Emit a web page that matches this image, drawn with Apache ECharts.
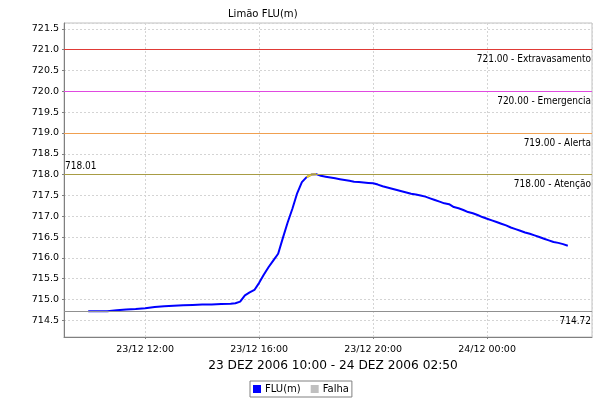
<!DOCTYPE html>
<html><head><meta charset="utf-8">
<script src="https://cdn.jsdelivr.net/npm/echarts@6/dist/echarts.min.js"></script>
<style>html,body{margin:0;padding:0;background:#fff}#c{width:600px;height:400px}</style>
</head><body><div id="c"></div>
<script>
const titleText = 'Limão FLU(m)';
const subtitleText = '23 DEZ 2006 10:00 - 24 DEZ 2006 02:50';
const times = [
 '2006-12-23 10:00','2006-12-23 10:20','2006-12-23 10:40','2006-12-23 11:00','2006-12-23 11:20','2006-12-23 11:40',
 '2006-12-23 12:00','2006-12-23 12:20','2006-12-23 12:40','2006-12-23 13:00','2006-12-23 13:20','2006-12-23 13:40',
 '2006-12-23 14:00','2006-12-23 14:20','2006-12-23 14:40','2006-12-23 15:00','2006-12-23 15:10','2006-12-23 15:20',
 '2006-12-23 15:30','2006-12-23 15:40','2006-12-23 15:50','2006-12-23 16:00','2006-12-23 16:10','2006-12-23 16:20',
 '2006-12-23 16:30','2006-12-23 16:40','2006-12-23 16:50','2006-12-23 17:00','2006-12-23 17:10','2006-12-23 17:20',
 '2006-12-23 17:30','2006-12-23 17:40','2006-12-23 17:50','2006-12-23 18:00','2006-12-23 18:10','2006-12-23 18:20',
 '2006-12-23 18:30','2006-12-23 18:40','2006-12-23 18:50','2006-12-23 19:00','2006-12-23 19:10','2006-12-23 19:20',
 '2006-12-23 19:30','2006-12-23 19:40','2006-12-23 19:50','2006-12-23 20:00','2006-12-23 20:10','2006-12-23 20:20',
 '2006-12-23 20:30','2006-12-23 20:40','2006-12-23 20:50','2006-12-23 21:00','2006-12-23 21:10','2006-12-23 21:20',
 '2006-12-23 21:30','2006-12-23 21:40','2006-12-23 21:50','2006-12-23 22:00','2006-12-23 22:10','2006-12-23 22:20',
 '2006-12-23 22:30','2006-12-23 22:40','2006-12-23 22:50','2006-12-23 23:00','2006-12-23 23:10','2006-12-23 23:20',
 '2006-12-23 23:30','2006-12-23 23:40','2006-12-23 23:50','2006-12-24 00:00','2006-12-24 00:10','2006-12-24 00:20',
 '2006-12-24 00:30','2006-12-24 00:40','2006-12-24 00:50','2006-12-24 01:00','2006-12-24 01:10','2006-12-24 01:20',
 '2006-12-24 01:30','2006-12-24 01:40','2006-12-24 01:50','2006-12-24 02:00','2006-12-24 02:10','2006-12-24 02:20',
 '2006-12-24 02:30','2006-12-24 02:40','2006-12-24 02:50'
];
const flu = [
 714.72,714.72,714.72,714.74,714.76,714.77,
 714.79,714.82,714.84,714.85,714.86,714.87,
 714.88,714.88,714.89,714.90,714.91,714.95,
 715.10,715.17,715.23,715.40,715.60,715.78,
 715.94,716.10,716.48,716.85,717.18,717.55,
 717.82,717.94,718.00,718.01,717.97,717.95,
 717.93,717.91,717.89,717.87,717.85,717.83,
 717.82,717.81,717.80,717.79,717.76,717.72,
 717.69,717.66,717.63,717.60,717.57,717.54,
 717.52,717.50,717.47,717.43,717.39,717.35,
 717.31,717.29,717.22,717.19,717.15,717.10,
 717.07,717.03,716.98,716.94,716.90,716.86,
 716.82,716.78,716.73,716.69,716.65,716.61,
 716.58,716.54,716.50,716.46,716.42,716.38,
 716.36,716.33,716.29
];
const peakTimes = ['2006-12-23 17:40','2006-12-23 17:50','2006-12-23 18:00'];
const peakValues = [717.94,718.00,718.01];
const levelValues = [721.00, 720.00, 719.00, 718.00];
const levelNames = ['Extravasamento', 'Emergencia', 'Alerta', 'Atenção'];
const levelColors = ['#e03a36', '#e04ae0', '#f0a050', '#a89c44'];
const minValue = 714.72;
const maxValue = 718.01;
const xRange = ['2006-12-23 09:09', '2006-12-24 03:41'];
const yRange = [714.10, 721.64];

function ts(s){const [d,t]=s.split(' ');const [Y,M,D]=d.split('-').map(Number);const [h,m]=t.split(':').map(Number);return Date.UTC(Y,M-1,D,h,m);}
function p2(n){return (n<10?'0':'')+n;}
const font = 'DejaVu Sans';
const lblFont = 'DejaVu Sans Condensed';

const lineMarks = levelValues.map((v,i)=>({
  yAxis: v,
  lineStyle: {color: levelColors[i], width: 1, type: 'solid', opacity: 1},
  label: {show: true, position: 'insideEndBottom', formatter: v.toFixed(2) + ' - ' + levelNames[i],
    color: '#000', fontSize: 10, fontFamily: lblFont, distance: [1, 5]}
}));
lineMarks.push({yAxis: minValue, lineStyle: {color: '#909090', width: 1, type: 'solid', opacity: 1},
  label: {show: true, position: 'insideEndBottom', formatter: minValue.toFixed(2), color: '#000', fontSize: 10, fontFamily: lblFont, distance: [1, 5]}});
lineMarks.push({yAxis: maxValue, lineStyle: {color: 'rgba(0,0,0,0)', width: 1, opacity: 1},
  label: {show: true, position: 'insideStartTop', formatter: maxValue.toFixed(2), color: '#000', fontSize: 10, fontFamily: lblFont, distance: [1, 3]}});

const chart = echarts.init(document.getElementById('c'), null, {renderer: 'canvas'});
chart.setOption({
  animation: false,
  backgroundColor: '#fff',
  title: [
    {text: titleText, left: 223, top: 4, textStyle: {fontSize: 11.2, fontWeight: 'normal', color: '#000', fontFamily: lblFont}},
    {text: subtitleText, left: 328, textAlign: 'center', top: 355, textStyle: {fontSize: 12.2, fontWeight: 'normal', color: '#000', fontFamily: font}}
  ],
  grid: {left: 64, right: 8, top: 23, bottom: 63, show: true, borderColor: '#c0c0c0', borderWidth: 1, containLabel: false},
  legend: {
    data: ['FLU(m)', 'Falha'], left: 250, top: 381, padding: [3, 3, 3, 3], itemWidth: 8, itemHeight: 8, itemGap: 10,
    icon: 'rect', borderColor: '#808080', borderWidth: 1, borderRadius: 0,
    textStyle: {fontSize: 10, color: '#000', fontFamily: font, padding: [0,0,0,-1]}
  },
  xAxis: {
    type: 'value', min: ts(xRange[0]), max: ts(xRange[1]), minInterval: 4*3600000, maxInterval: 4*3600000,
    axisLine: {show: true, lineStyle: {color: '#808080', width: 1}},
    axisTick: {show: true, length: 2, lineStyle: {color: '#808080'}},
    axisLabel: {showMinLabel: false, showMaxLabel: false, color: '#000', fontSize: 9.5, fontFamily: font, margin: 8,
      formatter: v => {const d=new Date(v); return p2(d.getUTCDate())+'/'+p2(d.getUTCMonth()+1)+' '+p2(d.getUTCHours())+':'+p2(d.getUTCMinutes());}},
    splitLine: {show: true, lineStyle: {color: '#d4d4d4', type: [2,2], width: 1}}
  },
  yAxis: {
    type: 'value', min: yRange[0], max: yRange[1], minInterval: 0.5, maxInterval: 0.5,
    axisLine: {show: true, lineStyle: {color: '#808080', width: 1}},
    axisTick: {show: true, length: 2, lineStyle: {color: '#808080'}},
    axisLabel: {showMinLabel: false, showMaxLabel: false, color: '#000', fontSize: 9.5, fontFamily: font, margin: 5, formatter: v => v.toFixed(1)},
    splitLine: {show: true, lineStyle: {color: '#d4d4d4', type: [2,2], width: 1}}
  },
  series: [
    {name: 'FLU(m)', type: 'line', data: times.map((t,i)=>[ts(t), flu[i]]), showSymbol: false, symbol: 'none',
     lineStyle: {color: '#0000ff', width: 2}, itemStyle: {color: '#0000ff'}, z: 3,
     markLine: {silent: true, symbol: 'none', animation: false, data: lineMarks}},
    {name: 'peak', type: 'line', data: peakTimes.map((t,i)=>[ts(t), peakValues[i]]), showSymbol: false, symbol: 'none',
     lineStyle: {color: '#f0d020', width: 2}, itemStyle: {color: '#f0d020'}, z: 4},
    {name: 'Falha', type: 'line', data: [], itemStyle: {color: '#c0c0c0'}, lineStyle: {color: '#c0c0c0'}}
  ]
});
</script></body></html>
